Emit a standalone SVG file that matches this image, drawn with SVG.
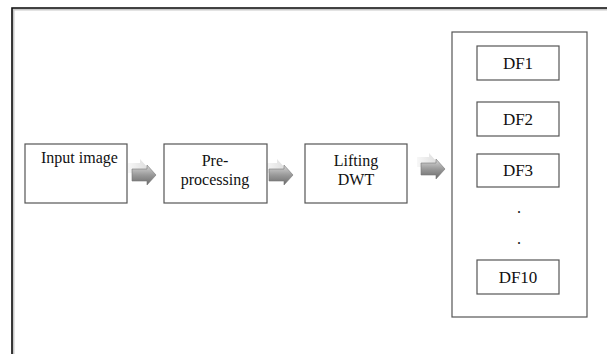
<svg xmlns="http://www.w3.org/2000/svg" width="607" height="354" viewBox="0 0 607 354">
<style>
.box{fill:#fff;stroke:#555;stroke-width:1.2}
.c{text-anchor:middle}
</style>
<defs>
<linearGradient id="g" x1="0" y1="0" x2="0" y2="1">
<stop offset="0" stop-color="#d8d8d8"/>
<stop offset="0.5" stop-color="#9a9a9a"/>
<stop offset="1" stop-color="#6a6a6a"/>
</linearGradient>
<linearGradient id="gf" x1="0" y1="0" x2="1" y2="0">
<stop offset="0" stop-color="#f4f4f4"/>
<stop offset="1" stop-color="#cfcfcf"/>
</linearGradient>
<g id="arr">
<path d="M-4,-6 h12 v-4 l8,9 l-8,9 v-4 h-12 z" fill="url(#gf)" opacity="0.7"/>
<path d="M0,0 h15 v-4 l9,10 l-9,10 v-4 h-15 z" fill="url(#g)" stroke="#777" stroke-width="0.6"/>
</g>
</defs>
<rect width="607" height="354" fill="#fff"/>
<g id="frame">
<path d="M13,354 V9 H607" fill="none" stroke="#c8c8c8" stroke-width="3"/>
<path d="M12,354 V8 H607" fill="none" stroke="#111" stroke-width="1.6"/>
</g>
<g id="connectors">
<use href="#arr" x="132" y="169"/>
<use href="#arr" x="269" y="169"/>
<use href="#arr" x="421" y="163"/>
</g>
<g id="input">
<rect class="box" x="25" y="144" width="102" height="59"/>
<text x="41" y="163" font-family="Liberation Serif" font-size="16" fill="#111">Input image</text>
</g>
<g id="preprocessing">
<rect class="box" x="164" y="144" width="103" height="59"/>
<text class="c" x="215" y="166" font-family="Liberation Serif" font-size="16" fill="#111">Pre-</text>
<text class="c" x="215" y="185" font-family="Liberation Serif" font-size="16" fill="#111">processing</text>
</g>
<g id="lifting">
<rect class="box" x="305" y="144" width="102" height="59"/>
<text class="c" x="356" y="166" font-family="Liberation Serif" font-size="16" fill="#111">Lifting</text>
<text class="c" x="356" y="185" font-family="Liberation Serif" font-size="16" fill="#111">DWT</text>
</g>
<g id="features">
<rect class="box" x="452" y="32" width="135" height="285"/>
<g id="df1"><rect class="box" x="477" y="46" width="82" height="34"/><text class="c" x="518" y="69" font-family="Liberation Serif" font-size="17" fill="#111">DF1</text></g>
<g id="df2"><rect class="box" x="477" y="102" width="82" height="34"/><text class="c" x="518" y="125" font-family="Liberation Serif" font-size="17" fill="#111">DF2</text></g>
<g id="df3"><rect class="box" x="477" y="154" width="82" height="33"/><text class="c" x="518" y="176" font-family="Liberation Serif" font-size="17" fill="#111">DF3</text></g>
<text class="c" x="519" y="213" font-family="Liberation Serif" font-size="16" fill="#111">.</text>
<text class="c" x="519" y="244" font-family="Liberation Serif" font-size="16" fill="#111">.</text>
<g id="df10"><rect class="box" x="477" y="260" width="82" height="34"/><text class="c" x="518" y="283" font-family="Liberation Serif" font-size="17" fill="#111">DF10</text></g>
</g>
</svg>
